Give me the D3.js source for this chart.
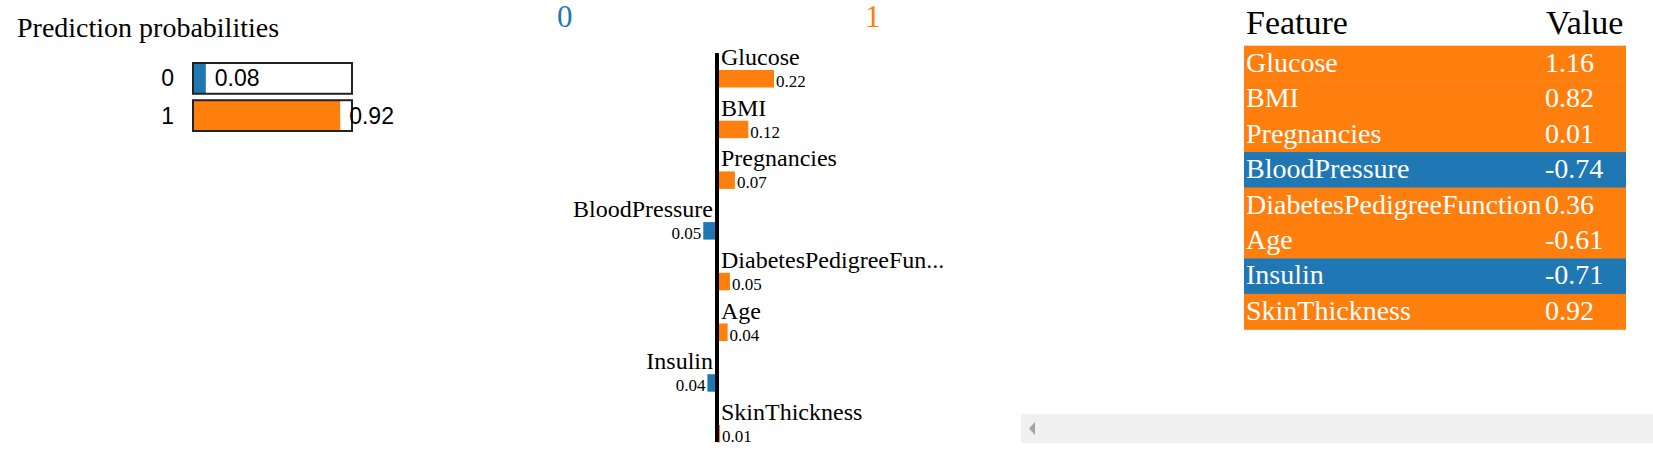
<!DOCTYPE html>
<html>
<head>
<meta charset="utf-8">
<script src="https://cdn.jsdelivr.net/npm/d3@7"></script>
<style>
  html, body { margin: 0; padding: 0; background: #fff; overflow: hidden; }
  svg { display: block; }
</style>
</head>
<body>
<svg id="chart" width="1653" height="475"></svg>
<script>
// ---- data ----
const classNames = ["0", "1"];
const predProbs = [0.08, 0.92];
const features = ["Glucose", "BMI", "Pregnancies", "BloodPressure", "DiabetesPedigreeFunction", "Age", "Insulin", "SkinThickness"];
const weights = [0.22, 0.121, 0.069, -0.053, 0.05, 0.041, -0.037, 0.012];
const featureValues = [1.16, 0.82, 0.01, -0.74, 0.36, -0.61, -0.71, 0.92];
const tableHeaders = ["Feature", "Value"];

const colors = ["#1f77b4", "#ff7f0e"];
const serif = "'Liberation Serif', 'Times New Roman', serif";
const sans = "'Liberation Sans', Arial, sans-serif";
const fmt = v => (+v).toFixed(2);

const svg = d3.select("#chart");

// ---- Prediction probabilities ----
const pp = svg.append("g");
pp.append("text").attr("x", 17).attr("y", 37)
  .attr("font-family", serif).attr("font-size", 28).attr("fill", "#000")
  .text("Prediction probabilities");

const probX = d3.scaleLinear().domain([0, 1]).range([0, 160]);
const probY = d3.scaleBand().domain(classNames).range([62, 132]).paddingInner(0.12);
const boxX = 193;

classNames.forEach((c, i) => {
  const y0 = probY(c), h = probY.bandwidth();
  pp.append("text").attr("x", 174).attr("y", y0 + h / 2 + 8)
    .attr("text-anchor", "end").attr("font-family", sans).attr("font-size", 23)
    .attr("fill", "#000").text(c);
  pp.append("rect").attr("x", boxX).attr("y", y0 + 1)
    .attr("width", probX(predProbs[i])).attr("height", h - 2)
    .attr("fill", colors[i]);
  pp.append("rect").attr("x", boxX).attr("y", y0 + 1)
    .attr("width", 159).attr("height", h - 2)
    .attr("fill", "none").attr("stroke", "#222").attr("stroke-width", 2);
  pp.append("text").attr("x", boxX + probX(predProbs[i]) + 9).attr("y", y0 + h / 2 + 8)
    .attr("font-family", sans).attr("font-size", 23).attr("fill", "#000")
    .text(fmt(predProbs[i]));
});

// ---- Explanation bars ----
const ex = svg.append("g");
const axisX = 717;
const maxAbs = d3.max(weights, d => Math.abs(d));
const wx = d3.scaleLinear().domain([-maxAbs, maxAbs]).range([axisX - 57, axisX + 57]);
const wy = d3.scaleBand().domain(features).range([70, 70 + 50.7 * features.length]);
const barH = 17.5;

ex.append("text").attr("x", 557).attr("y", 27).attr("font-family", serif)
  .attr("font-size", 31).attr("fill", colors[0]).text(classNames[0]);
ex.append("text").attr("x", 865).attr("y", 27).attr("font-family", serif)
  .attr("font-size", 31).attr("fill", colors[1]).text(classNames[1]);

features.forEach((f, i) => {
  const w = weights[i];
  const y0 = wy(f);
  const pos = w > 0;
  const name = f.length > 20 ? f.slice(0, 19) + "..." : f;
  ex.append("rect")
    .attr("x", Math.min(wx(0), wx(w))).attr("y", y0)
    .attr("width", Math.abs(wx(w) - wx(0))).attr("height", barH)
    .attr("fill", pos ? colors[1] : colors[0]);
  ex.append("text")
    .attr("x", pos ? axisX + 4 : axisX - 4).attr("y", y0 - 5)
    .attr("text-anchor", pos ? "start" : "end")
    .attr("font-family", serif).attr("font-size", 24).attr("fill", "#000")
    .text(name);
  ex.append("text")
    .attr("x", pos ? wx(w) + 2 : wx(w) - 2).attr("y", y0 + barH - 0.5)
    .attr("text-anchor", pos ? "start" : "end")
    .attr("font-family", serif).attr("font-size", 17).attr("fill", "#000")
    .text(fmt(Math.abs(w)));
});
ex.append("line").attr("x1", axisX).attr("x2", axisX).attr("y1", 53).attr("y2", 442)
  .attr("stroke", "#000").attr("stroke-width", 4);

// ---- Feature/value table ----
const tb = svg.append("g");
const tLeft = 1244, tRight = 1626;
const ty = d3.scaleBand().domain(features).range([45.7, 45.7 + 35.45 * features.length]);
tb.append("text").attr("x", 1246).attr("y", 34).attr("font-family", serif)
  .attr("font-size", 34).attr("fill", "#000").text(tableHeaders[0]);
tb.append("text").attr("x", 1546).attr("y", 34).attr("font-family", serif)
  .attr("font-size", 34).attr("fill", "#000").text(tableHeaders[1]);
features.forEach((f, i) => {
  const y0 = ty(f);
  tb.append("rect").attr("x", tLeft).attr("y", y0)
    .attr("width", tRight - tLeft).attr("height", ty.bandwidth() + 0.5)
    .attr("fill", weights[i] > 0 ? colors[1] : colors[0]);
  tb.append("text").attr("x", 1246).attr("y", y0 + 26)
    .attr("font-family", serif).attr("font-size", 28).attr("fill", "#fff").text(f);
  tb.append("text").attr("x", 1545).attr("y", y0 + 26)
    .attr("font-family", serif).attr("font-size", 28).attr("fill", "#fff")
    .text(fmt(featureValues[i]));
});

// ---- horizontal scrollbar ----
const sb = svg.append("g");
sb.append("rect").attr("x", 1021).attr("y", 414).attr("width", 632).attr("height", 29).attr("fill", "#f0f0f0");
sb.append("path").attr("d", "M1035,422 L1029,428.5 L1035,435 Z").attr("fill", "#a3a3a3");
</script>
</body>
</html>
